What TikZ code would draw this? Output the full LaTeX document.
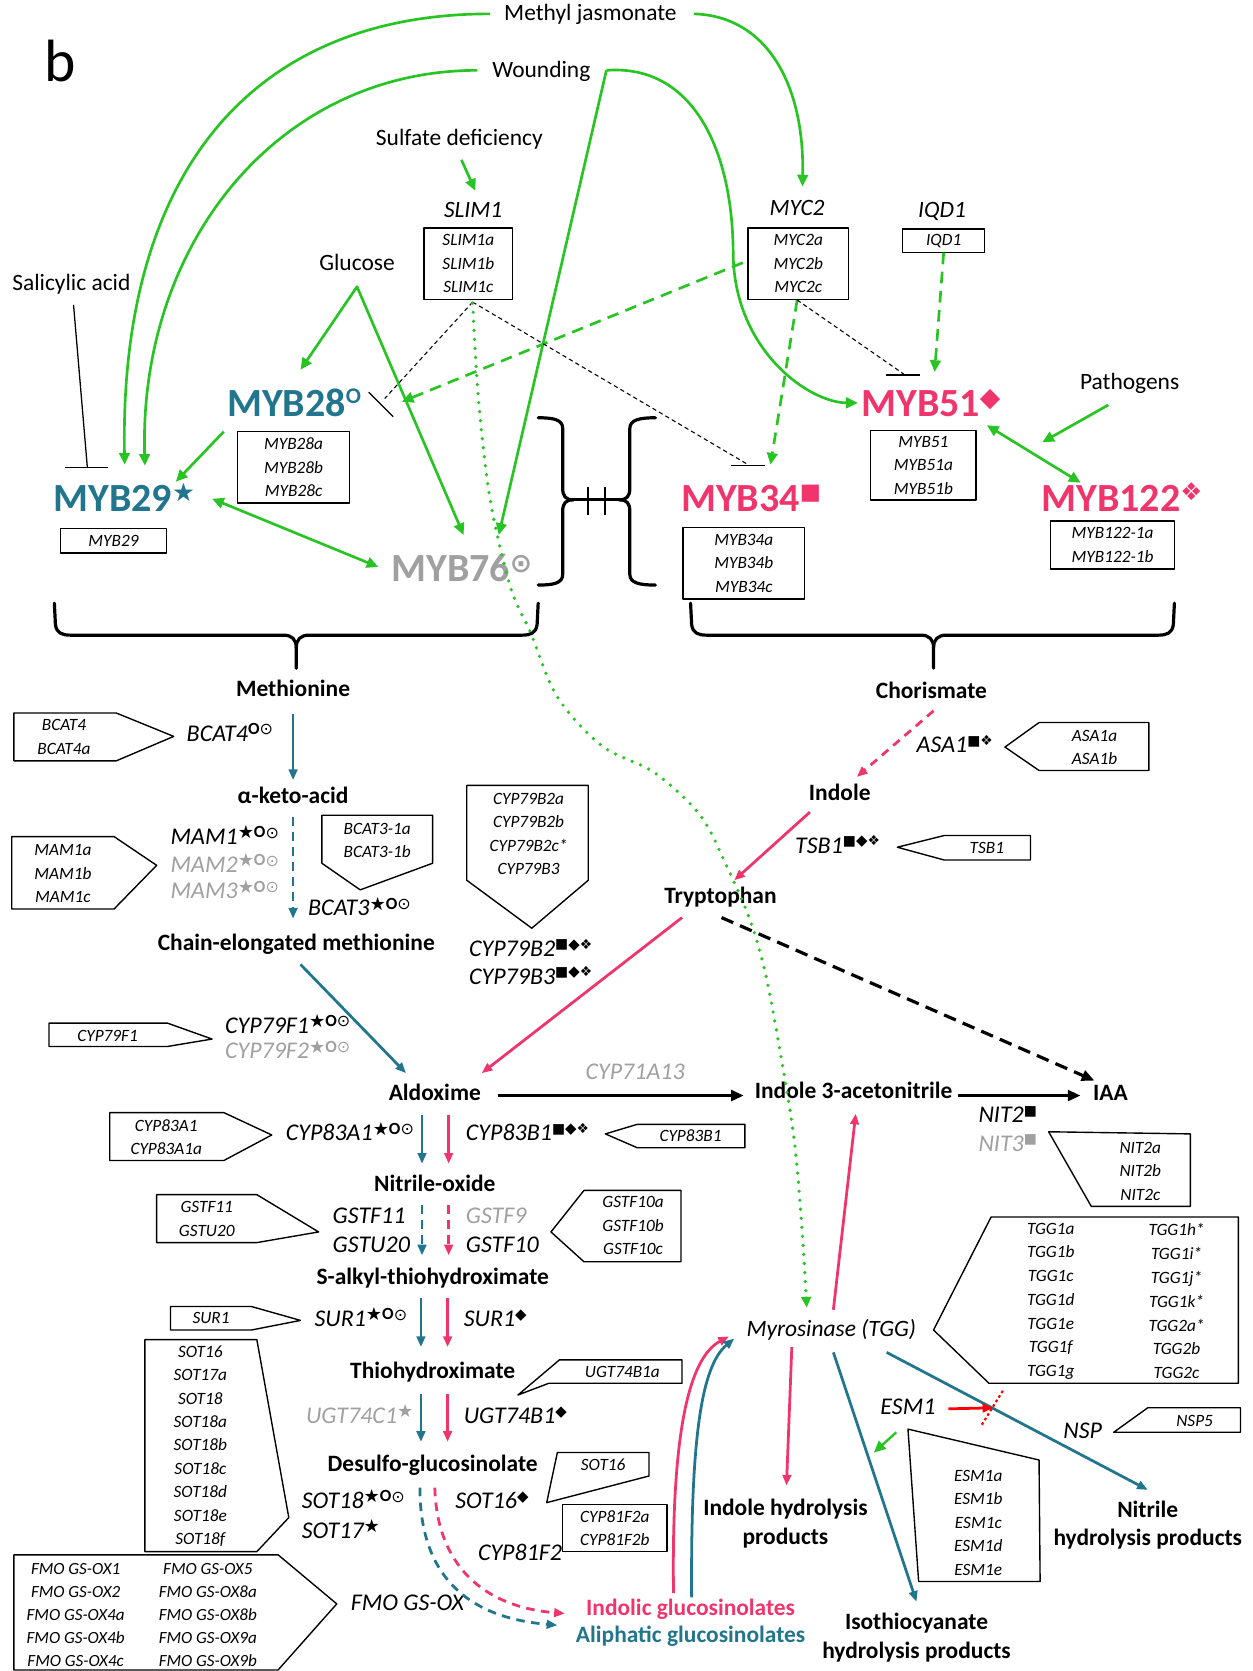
\documentclass[tikz,border=0pt]{standalone}
\usepackage{fontspec}
\setmainfont{Carlito}
\newfontfamily\symf{DejaVu Sans}
\usetikzlibrary{arrows.meta}
\definecolor{cteal}{RGB}{33,117,140}
\definecolor{cpink}{RGB}{240,52,108}
\definecolor{cgreen}{RGB}{40,196,36}
\definecolor{cgrey}{RGB}{160,160,160}
\newcommand\sST{\raisebox{0.24em}{\fontsize{17pt}{17pt}\selectfont\symf ★}}
\newcommand\sCI{\raisebox{0.28em}{\fontsize{16pt}{16pt}\selectfont\upshape\bfseries O}}
\newcommand\sDC{\raisebox{0.26em}{\fontsize{15pt}{15pt}\selectfont\symf ⊙}}
\newcommand\sSQ{\raisebox{0.32em}{\fontsize{13pt}{13pt}\selectfont\symf ■}}
\newcommand\sDI{\raisebox{0.3em}{\fontsize{14pt}{14pt}\selectfont\symf ◆}}
\newcommand\sFD{\raisebox{0.3em}{\fontsize{13pt}{13pt}\selectfont\symf ❖}}
\newcommand\bST{\raisebox{0.26em}{\fontsize{24pt}{24pt}\selectfont\symf ★}}
\newcommand\bCI{\raisebox{0.34em}{\fontsize{21pt}{21pt}\selectfont O}}
\newcommand\bDC{\raisebox{0.24em}{\fontsize{25pt}{25pt}\selectfont\symf ⊙}}
\newcommand\bSQ{\raisebox{0.3em}{\fontsize{21pt}{21pt}\selectfont\symf ■}}
\newcommand\bDI{\raisebox{0.26em}{\fontsize{25pt}{25pt}\selectfont\symf ◆}}
\newcommand\bFD{\raisebox{0.28em}{\fontsize{23pt}{23pt}\selectfont\symf ❖}}
\tikzset{
 lbl/.style={font=\fontsize{22pt}{27pt}\selectfont\bfseries, inner sep=0pt, text height=16.5pt, text depth=5.5pt},
 lbl2/.style={font=\fontsize{22pt}{27pt}\selectfont\bfseries, inner sep=0pt, align=center},
 plain/.style={font=\fontsize{22pt}{27pt}\selectfont, inner sep=0pt, text height=16.5pt, text depth=5.5pt},
 plainit/.style={font=\fontsize{22pt}{27pt}\selectfont\itshape, inner sep=0pt, text height=16.5pt, text depth=5.5pt},
 gene/.style={font=\fontsize{22.5pt}{27pt}\selectfont\itshape, inner sep=0pt, anchor=west, text height=16.5pt, text depth=5.5pt},
 big/.style={font=\fontsize{37.5pt}{40pt}\selectfont\bfseries, inner sep=0pt, anchor=base west},
 bt/.style={font=\fontsize{16.2pt}{22pt}\selectfont\itshape, align=center, inner sep=0pt},
 rbox/.style={draw, line width=1.3pt, inner sep=0pt, align=center, font=\fontsize{16.2pt}{22pt}\selectfont\itshape},
 bx/.style={draw=black, line width=1.3pt},
 ga/.style={draw=cgreen, line width=2.5pt, -{Triangle[length=11pt,width=10pt]}},
 ga2/.style={draw=cgreen, line width=2.5pt, {Triangle[length=11pt,width=10pt]}-{Triangle[length=11pt,width=10pt]}},
 gd/.style={ga, dash pattern=on 11pt off 7pt},
 gdot/.style={draw=cgreen, line width=3.4pt, line cap=round, dash pattern=on 0pt off 8.5pt, -{Triangle[length=10pt,width=9pt]}},
 ta/.style={draw=cteal, line width=2.6pt, -{Triangle[length=10pt,width=8pt]}},
 pa/.style={draw=cpink, line width=2.6pt, -{Triangle[length=10pt,width=8pt]}},
 dsh/.style={dash pattern=on 8pt off 6pt},
 ka/.style={draw=black, line width=3pt, -{Triangle[length=12pt,width=10pt]}},
 inh/.style={draw=black, line width=1pt, dash pattern=on 4pt off 3pt},
 ibar/.style={draw=black, line width=1.2pt},
 brc/.style={draw=black, line width=3pt, line cap=round},
}
\begin{document}
\begin{tikzpicture}[x=1pt,y=-1pt,line join=round]
\useasboundingbox (0,0) rectangle (1175,1568);
% ---------------- top labels
\node[font=\fontsize{56pt}{60pt}\selectfont, inner sep=0pt] (b) at (56,57) {b};
\node[plain] (mj) at (554,14) {Methyl jasmonate};
\node[plain] (wound) at (508,67) {Wounding};
\node[plain] (sulf) at (431,131) {Sulfate deficiency};
\node[plainit] (slimlab) at (444,199) {SLIM1};
\node[plainit] (myclab) at (748,197) {MYC2};
\node[plainit] (iqdlab) at (884,199) {IQD1};
\node[plain] (glu) at (335,248) {Glucose};
\node[plain] (sal) at (67,267) {Salicylic acid};
\node[plain] (path) at (1060,360) {Pathogens};
\node[rbox, minimum width=83pt, minimum height=67pt] (slimbox) at (439.5,247.5) {SLIM1a\\SLIM1b\\SLIM1c};
\node[rbox, minimum width=94pt, minimum height=67pt] (myc2box) at (749,247.5) {MYC2a\\MYC2b\\MYC2c};
\node[rbox, minimum width=77pt, minimum height=22pt] (iqdbox) at (885.5,226) {IQD1};
% ---------------- MYB factors
\node[big, text=cteal] (m28) at (213,391) {MYB28\bCI};
\node[big, text=cteal] (m29) at (50,480) {MYB29\bST};
\node[big, text=cgrey] (m76) at (367,546) {MYB76\bDC};
\node[big, text=cpink] (m34) at (639,480) {MYB34\bSQ};
\node[big, text=cpink] (m51) at (808,391) {MYB51\bDI};
\node[big, text=cpink] (m122) at (977,480) {MYB122\bFD};
\node[rbox, minimum width=105pt, minimum height=67pt] (m28box) at (275.5,438.5) {MYB28a\\MYB28b\\MYB28c};
\node[rbox, minimum width=99pt, minimum height=23pt] (m29box) at (106.5,507.5) {MYB29};
\node[rbox, minimum width=99pt, minimum height=65pt] (m51box) at (866.5,436.5) {MYB51\\MYB51a\\MYB51b};
\node[rbox, minimum width=114pt, minimum height=67pt] (m34box) at (698,528.5) {MYB34a\\MYB34b\\MYB34c};
\node[rbox, minimum width=116pt, minimum height=45pt] (m122box) at (1044,511.5) {MYB122-1a\\MYB122-1b};
% ---------------- green regulation
\draw[ga] ([shift={(-94,-1)}]mj.center) .. controls (230,13) and (112,170) .. ([shift={(67,-44)}]m29.base west);
\draw[ga] ([shift={(-60,-1)}]wound.center) .. controls (260,66) and (130,230) .. ([shift={(86,-43)}]m29.base west);
\draw[ga] ([shift={(97,-1)}]mj.center) .. controls (720,15) and (755,80) .. ([shift={(5,-22)}]myclab.center);
\draw[ga] ([shift={(61,-1)}]wound.center) -- ([shift={(101,-44)}]m76.base west);
\draw[ga] ([shift={(61,-1)}]wound.center) .. controls (650,60) and (688,140) .. (688,240) .. controls (690,330) and (760,378) .. ([shift={(-3,-13)}]m51.base west);
\draw[ga] ([shift={(2,19)}]sulf.center) -- ([shift={(2,-20)}]slimlab.center);
\draw[ga2] ([shift={(69,-44)}]m28.base west) -- ([shift={(0,21)}]glu.center) -- ([shift={(68,-44)}]m76.base west);
\draw[ga] ([shift={(-3,14)}]m28.base west) -- ([shift={(115,-28)}]m29.base west);
\draw[ga2] ([shift={(149,-12)}]m29.base west) -- ([shift={(-12,-14)}]m76.base west);
\draw[ga] ([shift={(-20,20)}]path.center) -- ([shift={(1,-65)}]m122.base west);
\draw[ga2] ([shift={(118,8)}]m51.base west) -- ([shift={(37,-27)}]m122.base west);
\draw[gd] ([shift={(-52,-1)}]myc2box.center) -- ([shift={(164,-14)}]m28.base west);
\draw[gd] ([shift={(-1,34)}]myc2box.center) -- ([shift={(84,-44)}]m34.base west);
\draw[gd] ([shift={(0,11)}]iqdbox.center) -- ([shift={(69,-42)}]m51.base west);
% inhibitions
\draw[inh] ([shift={(-1,34)}]myc2box.center) -- ([shift={(40,-40)}]m51.base west);
\draw[ibar] ([shift={(23,-39)}]m51.base west) -- ([shift={(55,-39)}]m51.base west);
\draw[inh] ([shift={(4,36)}]slimbox.center) -- ([shift={(148,-17)}]m28.base west);
\draw[ibar] ([shift={(133,-23)}]m28.base west) -- ([shift={(156,0)}]m28.base west);
\draw[inh] ([shift={(4,36)}]slimbox.center) -- ([shift={(63,-44)}]m34.base west);
\draw[ibar] ([shift={(47,-43)}]m34.base west) -- ([shift={(79,-43)}]m34.base west);
\draw[ibar] ([shift={(2,19)}]sal.center) -- ([shift={(32,-41)}]m29.base west);
\draw[ibar] ([shift={(11,-41)}]m29.base west) -- ([shift={(51,-41)}]m29.base west);
% ---------------- braces
\draw[brc] (505,392) .. controls (520,392) and (528,394) .. (528,402) -- (528,458) .. controls (528,466) and (531,469) .. (538,469);
\draw[brc] (505,549) .. controls (520,549) and (528,547) .. (528,539) -- (528,480) .. controls (528,472) and (531,469) .. (538,469);
\draw[brc] (615,392) .. controls (600,392) and (591,394) .. (591,402) -- (591,458) .. controls (591,466) and (588,469) .. (581,469);
\draw[brc] (615,549) .. controls (600,549) and (591,547) .. (591,539) -- (591,480) .. controls (591,472) and (588,469) .. (581,469);
\draw[brc] (538,469) -- (581,469);
\draw[line width=1.6pt] (552,457) -- (552,483) (568,457) -- (568,483);
\draw[brc] (51,566) -- (52,586) .. controls (53,594) and (58,596) .. (66,596) -- (266,596) .. controls (274,596) and (278,600) .. (278,608) -- (278,627);
\draw[brc] (505,566) -- (504,586) .. controls (503,594) and (498,596) .. (490,596) -- (290,596) .. controls (282,596) and (278,600) .. (278,608);
\draw[brc] (648,566) -- (649,586) .. controls (650,594) and (655,596) .. (663,596) -- (864,596) .. controls (872,596) and (876,600) .. (876,608) -- (876,627);
\draw[brc] (1102,566) -- (1101,586) .. controls (1100,594) and (1095,596) .. (1087,596) -- (888,596) .. controls (880,596) and (876,600) .. (876,608);
% ---------------- pathway nodes
\node[lbl] (meth) at (275,648) {Methionine};
\node[lbl] (keto) at (275,748) {α-keto-acid};
\node[lbl] (chain) at (278,886) {Chain-elongated methionine};
\node[lbl] (ald) at (408,1027) {Aldoxime};
\node[lbl] (nox) at (408,1113) {Nitrile-oxide};
\node[lbl] (salk) at (406,1200) {S-alkyl-thiohydroximate};
\node[lbl] (thio) at (406,1288) {Thiohydroximate};
\node[lbl] (desulfo) at (406,1375) {Desulfo-glucosinolate};
\node[lbl] (chor) at (874,650) {Chorismate};
\node[lbl] (indole) at (788,746) {Indole};
\node[lbl] (trp) at (676,842) {Tryptophan};
\node[lbl] (i3a) at (801,1025) {Indole 3-acetonitrile};
\node[lbl] (iaa) at (1042,1027) {IAA};
\node[plainit] (myr) at (780,1249) {Myrosinase (TGG)};
\node[lbl2] (indhp) at (737,1430) {Indole hydrolysis\\products};
\node[lbl2] (isohp) at (860,1537) {Isothiocyanate\\hydrolysis products};
\node[lbl2] (nithp) at (1077,1431) {Nitrile\\hydrolysis products};
\node[lbl, text=cpink] (indgl) at (648,1510) {Indolic glucosinolates};
\node[lbl, text=cteal] (aligl) at (648,1536) {Aliphatic glucosinolates};
% ---------------- gene labels
\node[gene] (bcat4l) at (175,690) {BCAT4\sCI\sDC};
\node[gene] (mam1l) at (160,787) {MAM1\sST\sCI\sDC};
\node[gene, text=cgrey] (mam2l) at (160,813) {MAM2\sST\sCI\sDC};
\node[gene, text=cgrey] (mam3l) at (160,838) {MAM3\sST\sCI\sDC};
\node[gene] (bcat3l) at (289,854) {BCAT3\sST\sCI\sDC};
\node[gene] (cyp79b2l) at (440,892) {CYP79B2\sSQ\sDI\sFD};
\node[gene] (cyp79b3l) at (440,918) {CYP79B3\sSQ\sDI\sFD};
\node[gene] (cyp79f1l) at (211,964) {CYP79F1\sST\sCI\sDC};
\node[gene, text=cgrey] (cyp79f2l) at (211,988) {CYP79F2\sST\sCI\sDC};
\node[gene, anchor=center, text=cgrey] (cyp71l) at (596,1007) {CYP71A13};
\node[gene] (cyp83a1l) at (268,1065) {CYP83A1\sST\sCI\sDC};
\node[gene] (cyp83b1l) at (437,1065) {CYP83B1\sSQ\sDI\sFD};
\node[gene] (gstf11l) at (312,1143) {GSTF11};
\node[gene] (gstu20l) at (312,1170) {GSTU20};
\node[gene, text=cgrey] (gstf9l) at (437,1143) {GSTF9};
\node[gene] (gstf10l) at (437,1170) {GSTF10};
\node[gene] (sur1al) at (295,1239) {SUR1\sST\sCI\sDC};
\node[gene] (sur1il) at (435,1239) {SUR1\sDI};
\node[gene, text=cgrey] (ugt74c1l) at (287,1330) {UGT74C1\sST};
\node[gene] (ugt74b1l) at (435,1330) {UGT74B1\sDI};
\node[gene] (sot18l) at (283,1410) {SOT18\sST\sCI\sDC};
\node[gene] (sot17l) at (283,1438) {SOT17\sST};
\node[gene] (sot16l) at (427,1410) {SOT16\sDI};
\node[gene, anchor=center] (cyp81l) at (488,1459) {CYP81F2};
\node[gene] (fmol) at (329,1506) {FMO GS-OX};
\node[gene] (asa1l) at (860,701) {ASA1\sSQ\sFD};
\node[gene] (tsb1l) at (746,795) {TSB1\sSQ\sDI\sFD};
\node[gene] (nit2l) at (918,1048) {NIT2\sSQ};
\node[gene, text=cgrey] (nit3l) at (918,1075) {NIT3\sSQ};
\node[gene, anchor=center] (esm) at (852,1322) {ESM1};
\node[gene, anchor=center] (nsp) at (1016,1344) {NSP};
% ---------------- enzyme boxes
\draw[bx] (13,669) -- (109,669) -- (163,691) -- (109,714) -- (13,714) -- cycle;
\node[bt] (bcat4t) at (60,691.5) {BCAT4\\BCAT4a};
\draw[bx] (11,785) -- (107,785) -- (147,812) -- (107,853) -- (11,853) -- cycle;
\node[bt] (mamt) at (59,820) {MAM1a\\MAM1b\\MAM1c};
\draw[bx] (302,765) -- (406,765) -- (406,810) -- (338,835) -- (302,810) -- cycle;
\node[bt] (bcat3t) at (354,788.5) {BCAT3-1a\\BCAT3-1b};
\draw[bx] (438,737) -- (552,737) -- (552,826) -- (499,871) -- (438,826) -- cycle;
\node[bt] (cyp79bt) at (496,782.5) {CYP79B2a\\CYP79B2b\\CYP79B2c*\\CYP79B3};
\draw[bx] (46,960) -- (157,960) -- (199,975) -- (157,982) -- (46,982) -- cycle;
\node[bt] (cyp79f1t) at (101,972) {CYP79F1};
\draw[bx] (103,1044) -- (210,1044) -- (255,1065) -- (210,1089) -- (103,1089) -- cycle;
\node[bt] (cyp83a1t) at (156,1067) {CYP83A1\\CYP83A1a};
\draw[bx] (568,1064) -- (598,1055) -- (699,1055) -- (699,1077) -- (598,1077) -- cycle;
\node[bt] (cyp83b1t) at (648,1066) {CYP83B1};
\draw[bx] (147,1121) -- (241,1121) -- (299,1156) -- (241,1166) -- (147,1166) -- cycle;
\node[bt] (gstf11t) at (194,1144) {GSTF11\\GSTU20};
\draw[bx] (517,1156) -- (548,1117) -- (639,1117) -- (639,1184) -- (548,1184) -- cycle;
\node[bt] (gstf10t) at (594,1150) {GSTF10a\\GSTF10b\\GSTF10c};
\draw[bx] (160,1226) -- (236,1226) -- (282,1239) -- (236,1248) -- (160,1248) -- cycle;
\node[bt] (sur1t) at (198,1237) {SUR1};
\draw[bx] (136,1257) -- (241,1257) -- (271,1424) -- (241,1456) -- (136,1456) -- cycle;
\node[bt] (sott) at (188,1357) {SOT16\\SOT17a\\SOT18\\SOT18a\\SOT18b\\SOT18c\\SOT18d\\SOT18e\\SOT18f};
\draw[bx] (486,1309) -- (525,1276) -- (640,1276) -- (640,1298) -- (515,1298) -- cycle;
\node[bt] (ugtt) at (584,1287) {UGT74B1a};
\draw[bx] (513,1410) -- (523,1363) -- (609,1363) -- (609,1385) -- cycle;
\node[bt] (sot16t) at (566,1374) {SOT16};
\node[rbox, minimum width=98pt, minimum height=44pt] (cyp81t) at (577,1434) {CYP81F2a\\CYP81F2b};
\draw[bx] (13,1459) -- (261,1459) -- (316,1505) -- (261,1567) -- (13,1567) -- cycle;
\node[bt, font=\fontsize{16pt}{21.75pt}\selectfont\itshape] (fmoa) at (71,1515.5) {FMO GS-OX1\\FMO GS-OX2\\FMO GS-OX4a\\FMO GS-OX4b\\FMO GS-OX4c};
\node[bt, font=\fontsize{16pt}{21.75pt}\selectfont\itshape] (fmob) at (195,1515.5) {FMO GS-OX5\\FMO GS-OX8a\\FMO GS-OX8b\\FMO GS-OX9a\\FMO GS-OX9b};
\draw[bx] (943,701) -- (975,678) -- (1078,678) -- (1078,723) -- (975,723) -- cycle;
\node[bt] (asat) at (1027,701.5) {ASA1a\\ASA1b};
\draw[bx] (842,795) -- (886,784) -- (967,784) -- (967,807) -- (886,807) -- cycle;
\node[bt] (tsbt) at (926,796) {TSB1};
\draw[bx] (984,1062) -- (1117,1064) -- (1117,1132) -- (1024,1132) -- cycle;
\node[bt] (nitt) at (1070,1099) {NIT2a\\NIT2b\\NIT2c};
\draw[bx] (930,1142) -- (1162,1142) -- (1162,1298) -- (928,1298) -- (876,1248) -- cycle;
\node[bt, font=\fontsize{16.2pt}{22.3pt}\selectfont\itshape] (tgga) at (986,1221) {TGG1a\\TGG1b\\TGG1c\\TGG1d\\TGG1e\\TGG1f\\TGG1g};
\node[bt, font=\fontsize{16.2pt}{22.3pt}\selectfont\itshape] (tggb) at (1104,1221) {TGG1h*\\TGG1i*\\TGG1j*\\TGG1k*\\TGG2a*\\TGG2b\\TGG2c};
\draw[bx] (852,1341) -- (975,1370) -- (976,1484) -- (862,1484) -- cycle;
\node[bt] (esmt) at (918,1429) {ESM1a\\ESM1b\\ESM1c\\ESM1d\\ESM1e};
\draw[bx] (1045,1344) -- (1077,1321) -- (1164,1321) -- (1164,1344) -- cycle;
\node[bt] (nsp5t) at (1121,1333) {NSP5};
% ---------------- pathway arrows
\draw[ta] ([shift={(0,22)}]meth.center) -- ([shift={(0,-16)}]keto.center);
\draw[ta,dsh] ([shift={(0,19)}]keto.center) -- ([shift={(-3,-24)}]chain.center);
\draw[ta] ([shift={(4,19)}]chain.center) -- ([shift={(-27,-20)}]ald.center);
\draw[pa] ([shift={(-36,19)}]trp.center) -- ([shift={(44,-20)}]ald.center);
\draw[ta] ([shift={(-12,19)}]ald.center) -- ([shift={(-12,-21)}]nox.center);
\draw[pa] ([shift={(13,19)}]ald.center) -- ([shift={(13,-21)}]nox.center);
\draw[ta,dsh] ([shift={(-12,18)}]nox.center) -- ([shift={(-10,-22)}]salk.center);
\draw[pa,dsh] ([shift={(13,18)}]nox.center) -- ([shift={(15,-22)}]salk.center);
\draw[ta] ([shift={(-11,18)}]salk.center) -- ([shift={(-11,-24)}]thio.center);
\draw[pa] ([shift={(14,18)}]salk.center) -- ([shift={(14,-24)}]thio.center);
\draw[ta] ([shift={(-11,20)}]thio.center) -- ([shift={(-11,-22)}]desulfo.center);
\draw[pa] ([shift={(14,20)}]thio.center) -- ([shift={(14,-22)}]desulfo.center);
\draw[ka] ([shift={(59,1)}]ald.center) -- ([shift={(-103,3)}]i3a.center);
\draw[ka] ([shift={(98,3)}]i3a.center) -- ([shift={(-28,1)}]iaa.center);
\draw[ka, dash pattern=on 12pt off 7pt] ([shift={(1,19)}]trp.center) -- ([shift={(-15,-13)}]iaa.center);
\draw[pa,dsh] ([shift={(2,17)}]chor.center) -- ([shift={(16,-17)}]indole.center);
\draw[pa] ([shift={(-28,16)}]indole.center) -- ([shift={(13,-16)}]trp.center);
\draw[pa] ([shift={(2,-20)}]myr.center) -- ([shift={(2,20)}]i3a.center);
\draw[pa] ([shift={(-37,15)}]myr.center) -- ([shift={(1,-36)}]indhp.center);
\draw[ta] ([shift={(2,20)}]myr.center) -- ([shift={(0,-34)}]isohp.center);
\draw[ta] ([shift={(52,20)}]myr.center) -- ([shift={(0,-33)}]nithp.center);
\draw[ta,dsh] ([shift={(-12,21)}]desulfo.center) .. controls (394,1480) and (440,1518) .. ([shift={(-125,-11)}]aligl.center);
\draw[pa,dsh] ([shift={(2,21)}]desulfo.center) .. controls (410,1470) and (455,1508) .. ([shift={(-118,4)}]indgl.center);
\draw[pa] ([shift={(-16,-15)}]indgl.center) .. controls (630,1350) and (645,1275) .. ([shift={(-96,5)}]myr.center);
\draw[ta] ([shift={(1,-11)}]indgl.center) .. controls (648,1350) and (658,1282) .. ([shift={(-91,7)}]myr.center);
\draw[draw=red, line width=2.6pt, -{Triangle[length=10pt,width=8pt]}] ([shift={(38,0)}]esm.center) -- ([shift={(80,-1)}]esm.center);
\draw[draw=red, line width=2pt, dash pattern=on 2.5pt off 2.5pt] ([shift={(89,-17)}]esm.center) -- ([shift={(68,17)}]esm.center);
\draw[ga, line width=2.2pt] ([shift={(-11,22)}]esm.center) -- ([shift={(-32,41)}]esm.center);
% ---------------- dotted SLIM1 -> myrosinase
\draw[gdot] plot[smooth, tension=0.55] coordinates {([shift={(4,37)}]slimbox.center) (449,375) (460,469) (479,551) (498,594) (523,654) (565,700) (614,725) (657,765) (682,813) (704,864) (719,917) (735,1004) (746,1076) (753,1160) ([shift={(-23,-22)}]myr.center)};
\end{tikzpicture}
\end{document}
